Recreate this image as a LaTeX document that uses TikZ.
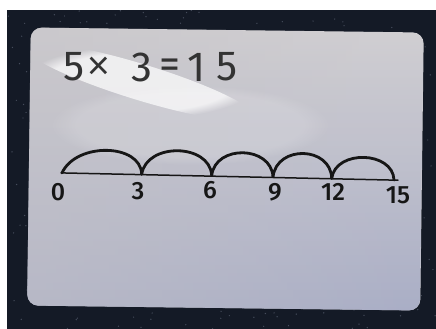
\documentclass[tikz,border=0pt]{standalone}
\usepackage{fontspec}
\setmainfont{Fira Sans}
\newfontfamily\medfont{Fira Sans}[UprightFont=* Medium]
\newfontfamily\thinfont{Fira Sans}[UprightFont=* Light]
\usetikzlibrary{fadings}
\definecolor{cloth}{HTML}{141A26}
\definecolor{speck}{HTML}{5A6273}
\definecolor{boardA}{HTML}{D2D0D3}
\definecolor{boardB}{HTML}{A0A6C4}
\definecolor{boardC}{HTML}{C4C2C6}
\definecolor{ink}{HTML}{161616}
\definecolor{pencil}{HTML}{333333}
\tikzset{
  arcline/.style={draw=ink, line width=2.8pt, line cap=round},
  baseline/.style={draw=ink, line width=1.5pt, line cap=round},
  numlabel/.style={text=ink, font=\medfont\fontsize{25}{25}\selectfont, inner sep=0pt},
  titletext/.style={text=pencil, font=\fontsize{42}{42}\selectfont, inner sep=0pt}
}
\begin{document}
\begin{tikzpicture}[x=1pt,y=-1pt]
\useasboundingbox (0,0) rectangle (436,329);
% background cloth
\fill[cloth] (0,0) rectangle (436,329);
\pgfmathsetseed{7}
\foreach \i in {1,...,420}{
  \pgfmathsetmacro{\xx}{rnd*436}
  \pgfmathsetmacro{\yy}{rnd*329}
  \fill[speck, opacity=0.7] (\xx,\yy) circle (0.7);
}
% white photo margin
\fill[white] (0,0) rectangle (436,10);
\fill[white] (0,0) rectangle (7,329);
% board
\begin{scope}[shift={(225.5,169)}, rotate=-0.73]
  \fill[boardA, rounded corners=11pt] (-196.5,-139) rectangle (196.5,139);
  \fill[boardB, rounded corners=11pt, path fading=north, opacity=0.8] (-196.5,-139) rectangle (196.5,139);
  \fill[boardC, rounded corners=11pt, path fading=east, opacity=0.5] (-196.5,-139) rectangle (196.5,139);
\end{scope}
% glare
\fill[white, opacity=0.7, path fading=circle with fuzzy edge 20 percent, rotate around={-17:(140,82)}] (140,82) ellipse (120 and 18);
\fill[white, opacity=0.15, path fading=circle with fuzzy edge 20 percent] (190,125) ellipse (140 and 40);
% title, glyph by glyph
\node[titletext] (t1) at (74,67) {5};
\node[titletext, font=\thinfont\fontsize{54}{54}\selectfont] (t2) at (99,70) {×};
\node[titletext] (t3) at (142,67) {3};
\node[titletext] (t4) at (170,69) {=};
\node[titletext] (t5) at (197,67) {1};
\node[titletext] (t6) at (227,67) {5};
% number line points
\coordinate (p0) at (62,173);
\coordinate (p3) at (141.7,174.2);
\coordinate (p6) at (211.7,175.3);
\coordinate (p9) at (273,176.7);
\coordinate (p12) at (331.7,178.3);
\coordinate (p15) at (394,180);
\coordinate (lstart) at (61,172.9);
\coordinate (lend) at (398,180.2);
\draw[baseline] (lstart) -- (lend);
\draw[arcline] (p0) .. controls +(14,-31) and +(-1,-31) .. (p3);
\draw[arcline] (p3) .. controls +(5,-32) and +(-2,-32) .. (p6);
\draw[arcline] (p6) .. controls +(4,-31) and +(-2,-31) .. (p9);
\draw[arcline] (p9) .. controls +(4,-32) and +(-1,-32) .. (p12);
\draw[arcline] (p12) .. controls +(4,-29) and +(-1,-29) .. (p15);
% labels
\node[numlabel] (l0) at (58,192) {0};
\node[numlabel] (l3) at (138,191) {3};
\node[numlabel] (l6) at (210,190) {6};
\node[numlabel] (l9) at (275,192) {9};
\node[numlabel] (l12) at (333,192) {12};
\node[numlabel] (l15) at (398,195) {15};
\end{tikzpicture}
\end{document}
